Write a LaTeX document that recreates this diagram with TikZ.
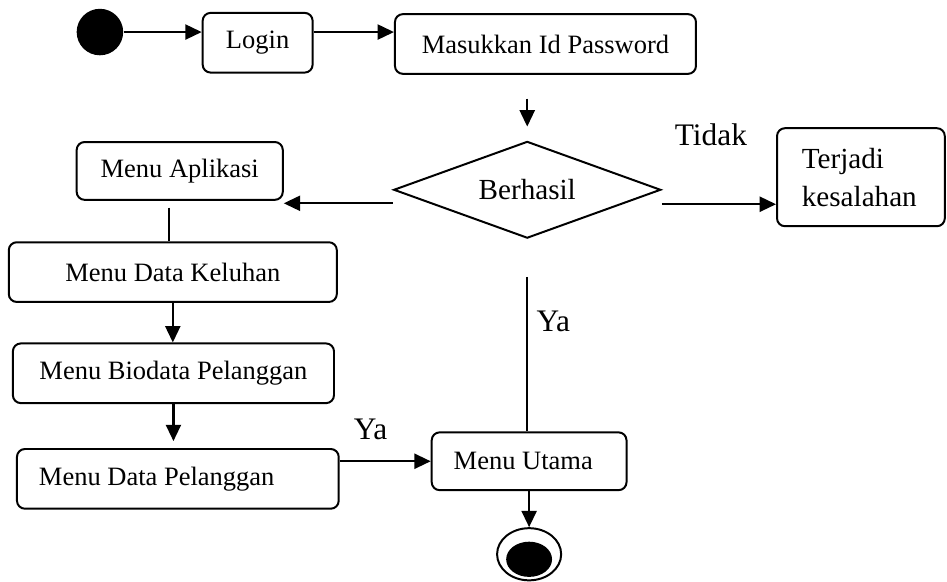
\documentclass[tikz,border=0pt]{standalone}
\usepackage{fontspec}
\setmainfont{Liberation Serif}
\usetikzlibrary{calc}
\usetikzlibrary{positioning}
\usetikzlibrary{shapes}
\usetikzlibrary{arrows.meta}

\begin{document}
\begin{tikzpicture}[>={Triangle[length=7.4pt,width=6.8pt]},
	box/.style={draw, rounded corners=3.6pt, line width=0.9pt, inner sep=0pt, minimum height=0.95cm, font=\fontsize{12}{14}\selectfont},
	lbl/.style={inner sep=0pt, font=\fontsize{14.2}{16}\selectfont},
	conn/.style={line width=1pt}]
				\useasboundingbox (0,0) rectangle (15.07,-9.26);
				
				\node[circle, fill, minimum size=0.74cm, inner sep=0pt] (start) at (1.59,-0.51) {};
				\node[box, minimum width=1.75cm] (login) at (4.10,-0.68) {Login};
				\node[box, minimum width=4.79cm] (masukkan) at (8.68,-0.70) {Masukkan Id Password};
				\node[diamond, draw, line width=0.9pt, aspect=2.75, inner sep=0pt, minimum width=4.25cm, minimum height=1.54cm, font=\fontsize{13.2}{15}\selectfont] (berhasil) at (8.39,-3.02) {Berhasil};
				\node[box, minimum width=2.67cm, minimum height=1.56cm, text width=1.88cm, align=flush left, font=\fontsize{13.2}{17.2}\selectfont] (terjadi) at (13.70,-2.82) {Terjadi\\kesalahan};
				\node[box, minimum width=3.28cm, minimum height=0.92cm] (menuapl) at (2.86,-2.72) {Menu Aplikasi};
				\node[box, minimum width=5.22cm] (keluhan) at (2.75,-4.33) {Menu Data Keluhan};
				\node[box, minimum width=5.11cm] (biodata) at (2.76,-5.94) {Menu Biodata Pelanggan};
				\node[box, minimum width=5.12cm, text width=4.42cm, align=flush left] (datapel) at (2.83,-7.62) {Menu Data Pelanggan};
				\node[box, minimum width=3.10cm, minimum height=0.92cm, text width=2.40cm, align=flush left] (utama) at (8.42,-7.34) {Menu Utama};
				\node[ellipse, draw, line width=0.9pt, minimum width=1.02cm, minimum height=0.83cm, inner sep=0pt] (end) at (8.42,-8.82) {};
				\node[ellipse, fill, minimum width=0.73cm, minimum height=0.56cm, inner sep=0pt] (endin) at (8.42,-8.90) {};
				
				\coordinate (kiri) at ([yshift=-0.215cm]berhasil.west);
				\coordinate (kanan) at ([yshift=-0.23cm]berhasil.east);
				\coordinate (aplbawah) at ([xshift=-0.175cm]menuapl.south);
				
				\draw[conn, ->]  (start) -- (start -| login.west);
				\draw[conn, ->]  (login.east |- start) -- (masukkan.west |- start);
				\draw[conn, ->, shorten <=0.38cm, shorten >=0.22cm]  (berhasil.north |- masukkan.south) -- (berhasil.north);
				\draw[conn, ->]  (kiri) -- (kiri -| menuapl.east);
				\draw[conn, ->]  (kanan) -- (kanan -| terjadi.west) node[lbl, pos=0.43, above=0.92cm] {Tidak};
				\draw[conn, shorten <=0.11cm]  (aplbawah) -- (aplbawah |- keluhan.north);
				\draw[conn, ->]  (keluhan.south) -- (keluhan.south |- biodata.north);
				\draw[conn, ->, shorten >=0.11cm]  (biodata.south) -- (biodata.south |- datapel.north);
				\draw[conn, ->]  (datapel.east |- utama.west) -- (utama.west) node[lbl, pos=0.34, above=0.32cm] {Ya};
				\draw[conn, shorten <=0.6cm]  (berhasil.south) -- (berhasil.south |- utama.north) node[lbl, pos=0.43, right=0.13cm] {Ya};
				\draw[conn, ->]  (utama) -- (end);
			\end{tikzpicture}
\end{document}
